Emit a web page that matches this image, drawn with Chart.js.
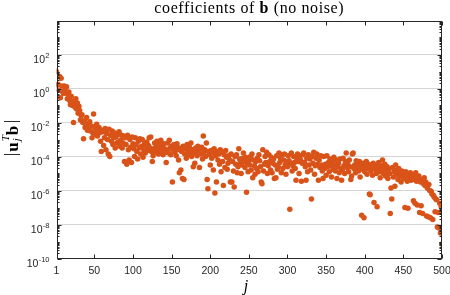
<!DOCTYPE html>
<html>
<head>
<meta charset="utf-8">
<script src="https://cdn.jsdelivr.net/npm/chart.js@4.4.1/dist/chart.umd.min.js"></script>
<style>
  html, body { margin: 0; padding: 0; background: #fff; }
</style>
</head>
<body>
<canvas id="grafico" width="450" height="295"></canvas>
<script>
// log10 |u_j^T b|, j = 1..500
const LOG_B_001_100 = [
  1.0, 0.2, 0.25, -0.1, 0.7, -0.55, 0.6, 0.15, -0.2, -0.3,
  0.15, -0.05, -0.25, 0.1, -0.6, -0.35, -0.2, -0.7, -0.95, -0.45,
  -0.75, -1.0, -2.0, -0.9, -1.1, -0.6, -1.2, -0.85, -1.45, -1.05,
  -1.3, -1.85, -1.6, -1.55, -2.0, -2.95, -1.9, -2.3, -2.1, -1.7,
  -2.45, -2.15, -2.35, -1.95, -2.5, -2.2, -2.9, -2.6, -1.5, -2.25,
  -2.7, -2.4, -2.1, -2.8, -2.55, -2.3, -2.6, -3.1, -3.7, -2.45,
  -2.55, -3.35, -2.9, -2.35, -3.6, -2.65, -3.0, -3.85, -2.4, -4.0,
  -2.75, -3.1, -2.5, -3.3, -2.9, -2.6, -3.5, -2.85, -3.2, -2.7,
  -3.15, -2.55, -3.4, -3.05, -2.75, -3.5, -3.2, -2.8, -4.3, -2.9,
  -3.3, -4.45, -2.75, -3.6, -4.2, -3.0, -3.45, -4.35, -2.85, -3.25
];
const LOG_B_101_200 = [
  -3.55, -4.0, -2.9, -3.3, -3.7, -4.15, -3.1, -3.5, -2.95, -3.85,
  -3.4, -3.0, -4.05, -3.6, -3.25, -3.8, -3.45, -3.15, -3.65, -3.35,
  -2.9, -3.5, -2.85, -3.7, -4.3, -3.95, -3.55, -3.2, -3.75, -3.4,
  -3.1, -3.6, -3.85, -3.3, -3.5, -3.05, -3.7, -3.4, -3.9, -3.25,
  -3.55, -3.75, -4.35, -3.65, -3.2, -3.8, -3.05, -3.5, -3.9, -3.4,
  -5.5, -3.6, -3.3, -3.75, -3.45, -3.95, -3.25, -3.6, -4.2, -4.95,
  -3.5, -4.8, -3.7, -5.3, -3.4, -5.35, -3.85, -3.55, -4.1, -3.3,
  -3.65, -3.9, -3.45, -3.75, -3.2, -4.0, -3.6, -4.6, -3.8, -4.4,
  -3.5, -3.7, -3.95, -3.4, -3.65, -4.65, -3.55, -3.85, -3.45, -4.15,
  -2.8, -3.75, -3.6, -4.0, -3.2, -5.35, -5.9, -3.7, -3.9, -4.5
];
const LOG_B_201_300 = [
  -3.65, -4.1, -3.8, -4.8, -3.55, -6.15, -3.95, -5.5, -3.7, -4.2,
  -3.85, -4.45, -3.6, -4.9, -3.75, -4.3, -5.7, -3.9, -4.65, -3.65,
  -4.05, -4.75, -4.4, -3.95, -4.2, -5.5, -3.85, -5.5, -4.3, -4.85,
  -5.8, -4.0, -4.45, -3.9, -4.95, -4.6, -3.55, -4.15, -4.35, -5.0,
  -4.5, -4.1, -3.8, -4.3, -4.65, -4.05, -6.1, -4.4, -4.9, -4.25,
  -4.5, -4.0, -4.8, -3.85, -5.25, -4.2, -4.55, -5.05, -4.3, -4.7,
  -4.1, -4.9, -3.9, -4.25, -4.6, -5.5, -5.6, -3.6, -4.85, -4.45,
  -4.0, -4.35, -3.75, -5.0, -4.55, -3.9, -4.3, -4.8, -4.05, -4.95,
  -4.4, -4.15, -5.3, -4.5, -5.25, -3.95, -4.75, -4.6, -3.8, -4.35,
  -4.1, -4.95, -3.9, -4.7, -4.2, -3.85, -4.5, -5.05, -4.3, -4.6
];
const LOG_B_301_400 = [
  -3.95, -4.25, -7.1, -4.4, -3.8, -4.85, -4.55, -4.0, -4.35, -4.7,
  -5.4, -4.1, -3.85, -4.3, -5.0, -3.95, -4.2, -5.45, -4.4, -3.9,
  -3.8, -4.35, -4.6, -5.4, -4.1, -4.9, -3.9, -4.5, -4.15, -4.8,
  -6.5, -4.0, -4.4, -3.75, -5.05, -4.55, -4.1, -3.85, -4.45, -5.4,
  -4.2, -4.65, -3.95, -4.5, -4.85, -5.3, -4.0, -4.7, -4.45, -5.1,
  -3.95, -4.6, -4.35, -4.9, -4.15, -4.55, -5.2, -4.3, -4.75, -4.05,
  -4.5, -4.85, -4.2, -5.3, -4.6, -4.4, -4.95, -4.15, -4.7, -5.4,
  -4.8, -4.1, -4.55, -5.0, -4.3, -3.8, -4.65, -4.45, -4.9, -4.2,
  -4.6, -5.35, -5.15, -3.85, -3.8, -4.7, -4.5, -4.95, -4.25, -4.65,
  -4.45, -4.85, -4.3, -5.2, -4.6, -7.45, -4.75, -4.4, -7.6, -4.9
];
const LOG_B_401_500 = [
  -4.55, -4.3, -5.05, -4.7, -4.45, -6.2, -6.25, -4.85, -4.6, -5.1,
  -4.4, -6.7, -4.75, -4.5, -5.0, -6.95, -4.65, -4.35, -4.9, -5.25,
  -4.55, -4.8, -4.2, -5.0, -4.7, -4.45, -5.15, -4.9, -4.6, -5.3,
  -4.75, -5.0, -7.35, -5.85, -6.5, -4.65, -5.2, -4.9, -5.75, -4.5,
  -5.05, -4.8, -5.35, -4.7, -5.1, -4.95, -5.5, -4.85, -5.2, -5.0,
  -5.3, -7.0, -4.9, -5.15, -5.45, -7.05, -5.0, -5.25, -4.95, -5.4,
  -5.1, -5.35, -6.6, -5.2, -6.75, -4.95, -5.45, -6.85, -5.3, -5.15,
  -7.3, -5.5, -6.9, -5.35, -7.35, -5.6, -5.25, -5.7, -5.5, -7.5,
  -5.85, -7.55, -5.65, -6.0, -7.6, -6.05, -6.2, -7.7, -6.3, -6.4,
  -7.25, -6.5, -6.55, -8.15, -7.3, -8.2, -6.75, -8.5, -6.95, -9.15
];

const X_TICKS = [1, 50, 100, 150, 200, 250, 300, 350, 400, 450, 500];
const Y_TICK_EXPONENTES = [-10, -8, -6, -4, -2, 0, 2];
const Y_GRID_EXPONENTES = [-8, -6, -4, -2, 0, 2];

const COLOR_PUNTOS = '#D95319';
const COLOR_EJES = '#262626';

const LOG_B = [].concat(LOG_B_001_100, LOG_B_101_200, LOG_B_201_300, LOG_B_301_400, LOG_B_401_500);
const puntos = LOG_B.map((e, i) => ({ x: i + 1, y: Math.pow(10, e) }));

// Caja, ticks hacia dentro y textos con formato (estilo MATLAB)
const decoraciones = {
  id: 'decoraciones',
  afterDraw(chart) {
    const { ctx, chartArea: a, scales: { x, y } } = chart;
    const L = Math.round(a.left) + 0.5, R = Math.round(a.right) - 0.5;
    const T = Math.round(a.top) + 0.5, B = Math.round(a.bottom) - 0.5;
    ctx.save();
    ctx.strokeStyle = COLOR_EJES;
    ctx.lineWidth = 1;
    ctx.strokeRect(L, T, R - L, B - T);

    ctx.beginPath();
    for (let e = -10; e < 4; e++) {
      for (let m = 1; m < 10; m++) {
        const py = Math.round(y.getPixelForValue(m * Math.pow(10, e))) + 0.5;
        const len = (m === 1 && e % 2 === 0) ? 4 : 2;
        ctx.moveTo(L, py); ctx.lineTo(L + len, py);
        ctx.moveTo(R, py); ctx.lineTo(R - len, py);
      }
    }
    X_TICKS.forEach(v => {
      const px = Math.round(x.getPixelForValue(v)) + 0.5;
      ctx.moveTo(px, B); ctx.lineTo(px, B - 4);
      ctx.moveTo(px, T); ctx.lineTo(px, T + 4);
    });
    ctx.stroke();

    // etiquetas 10^k
    ctx.fillStyle = COLOR_EJES;
    ctx.textBaseline = 'alphabetic';
    ctx.textAlign = 'left';
    const derecha = 49.5;
    Y_TICK_EXPONENTES.forEach(e => {
      const py = y.getPixelForValue(Math.pow(10, e));
      const exp = String(e);
      ctx.font = '7.5px "Liberation Sans", Arial, sans-serif';
      const we = ctx.measureText(exp).width;
      ctx.fillText(exp, derecha - we, py + 3.2);
      ctx.font = '10.5px "Liberation Sans", Arial, sans-serif';
      const wb = ctx.measureText('10').width;
      ctx.fillText('10', derecha - we - wb - 0.3, py + 8.2);
    });

    // titulo con la b en negrita
    const partes = [
      { t: 'coefficients of ', f: '16px "Liberation Serif", serif' },
      { t: 'b', f: 'bold 16px "Liberation Serif", serif' },
      { t: ' (no noise)', f: '16px "Liberation Serif", serif' }
    ];
    ctx.letterSpacing = '0.6px';
    let ancho = 0;
    partes.forEach(p => { ctx.font = p.f; p.w = ctx.measureText(p.t).width; ancho += p.w; });
    let cx = (a.left + a.right) / 2 - ancho / 2;
    ctx.fillStyle = '#000';
    partes.forEach(p => { ctx.font = p.f; ctx.fillText(p.t, cx, 12.8); cx += p.w; });
    ctx.letterSpacing = '0px';

    // etiqueta x
    ctx.font = 'italic 16px "Liberation Serif", serif';
    ctx.textAlign = 'center';
    ctx.fillText('j', 246, 291);

    // etiqueta y: |u_j^T b|
    ctx.translate(18, 137.5);
    ctx.rotate(-Math.PI / 2);
    ctx.textAlign = 'left';
    const piezas = [
      { t: '|', f: '17px "Liberation Serif", serif', dy: -2, avanza: true },
      { t: 'u', f: 'bold 17px "Liberation Serif", serif', dy: 0, avanza: true },
      { t: 'T', f: 'italic 11px "Liberation Serif", serif', dy: -9, avanza: false },
      { t: 'j', f: 'italic 11px "Liberation Serif", serif', dy: 2, avanza: true },
      { t: 'b', f: 'bold 17px "Liberation Serif", serif', dy: 0, avanza: true, gap: 2 },
      { t: '|', f: '17px "Liberation Serif", serif', dy: -2, avanza: true, gap: 1.5 }
    ];
    let total = 0;
    piezas.forEach(p => {
      ctx.font = p.f;
      p.w = ctx.measureText(p.t).width;
      if (p.avanza) total += p.w + (p.gap || 0) + 1;
    });
    let px = -total / 2;
    piezas.forEach(p => {
      ctx.font = p.f;
      px += (p.gap || 0);
      ctx.fillText(p.t, px, p.dy);
      if (p.avanza) px += p.w + 1;
    });
    ctx.restore();
  }
};

new Chart(document.getElementById('grafico'), {
  type: 'scatter',
  data: {
    datasets: [{
      data: puntos,
      backgroundColor: COLOR_PUNTOS,
      borderWidth: 0,
      pointRadius: 2.75,
      pointHoverRadius: 2.75
    }]
  },
  options: {
    responsive: false,
    animation: false,
    devicePixelRatio: 1,
    layout: { padding: { top: 20.5, right: 8, bottom: 0, left: 0 } },
    plugins: {
      legend: { display: false },
      tooltip: { enabled: false },
      title: { display: false }
    },
    scales: {
      x: {
        type: 'linear',
        min: 1,
        max: 500,
        afterBuildTicks: s => { s.ticks = X_TICKS.map(v => ({ value: v })); },
        afterFit: s => { s.height = 36.5; s.paddingLeft = 0; s.paddingRight = 0; },
        grid: { display: false, drawTicks: false },
        border: { display: false },
        ticks: {
          autoSkip: false,
          maxRotation: 0,
          padding: 6,
          color: COLOR_EJES,
          font: { family: '"Liberation Sans", Arial, sans-serif', size: 10.5 },
          callback: v => String(v)
        }
      },
      y: {
        type: 'logarithmic',
        min: 1e-10,
        max: 1e4,
        afterBuildTicks: s => { s.ticks = Y_GRID_EXPONENTES.map(e => ({ value: Math.pow(10, e) })); },
        afterFit: s => { s.width = 56.5; s.paddingTop = 0; s.paddingBottom = 0; },
        grid: { color: '#d4d4d4', drawTicks: false },
        border: { display: false },
        ticks: { display: false }
      }
    }
  },
  plugins: [decoraciones]
});
</script>
</body>
</html>
